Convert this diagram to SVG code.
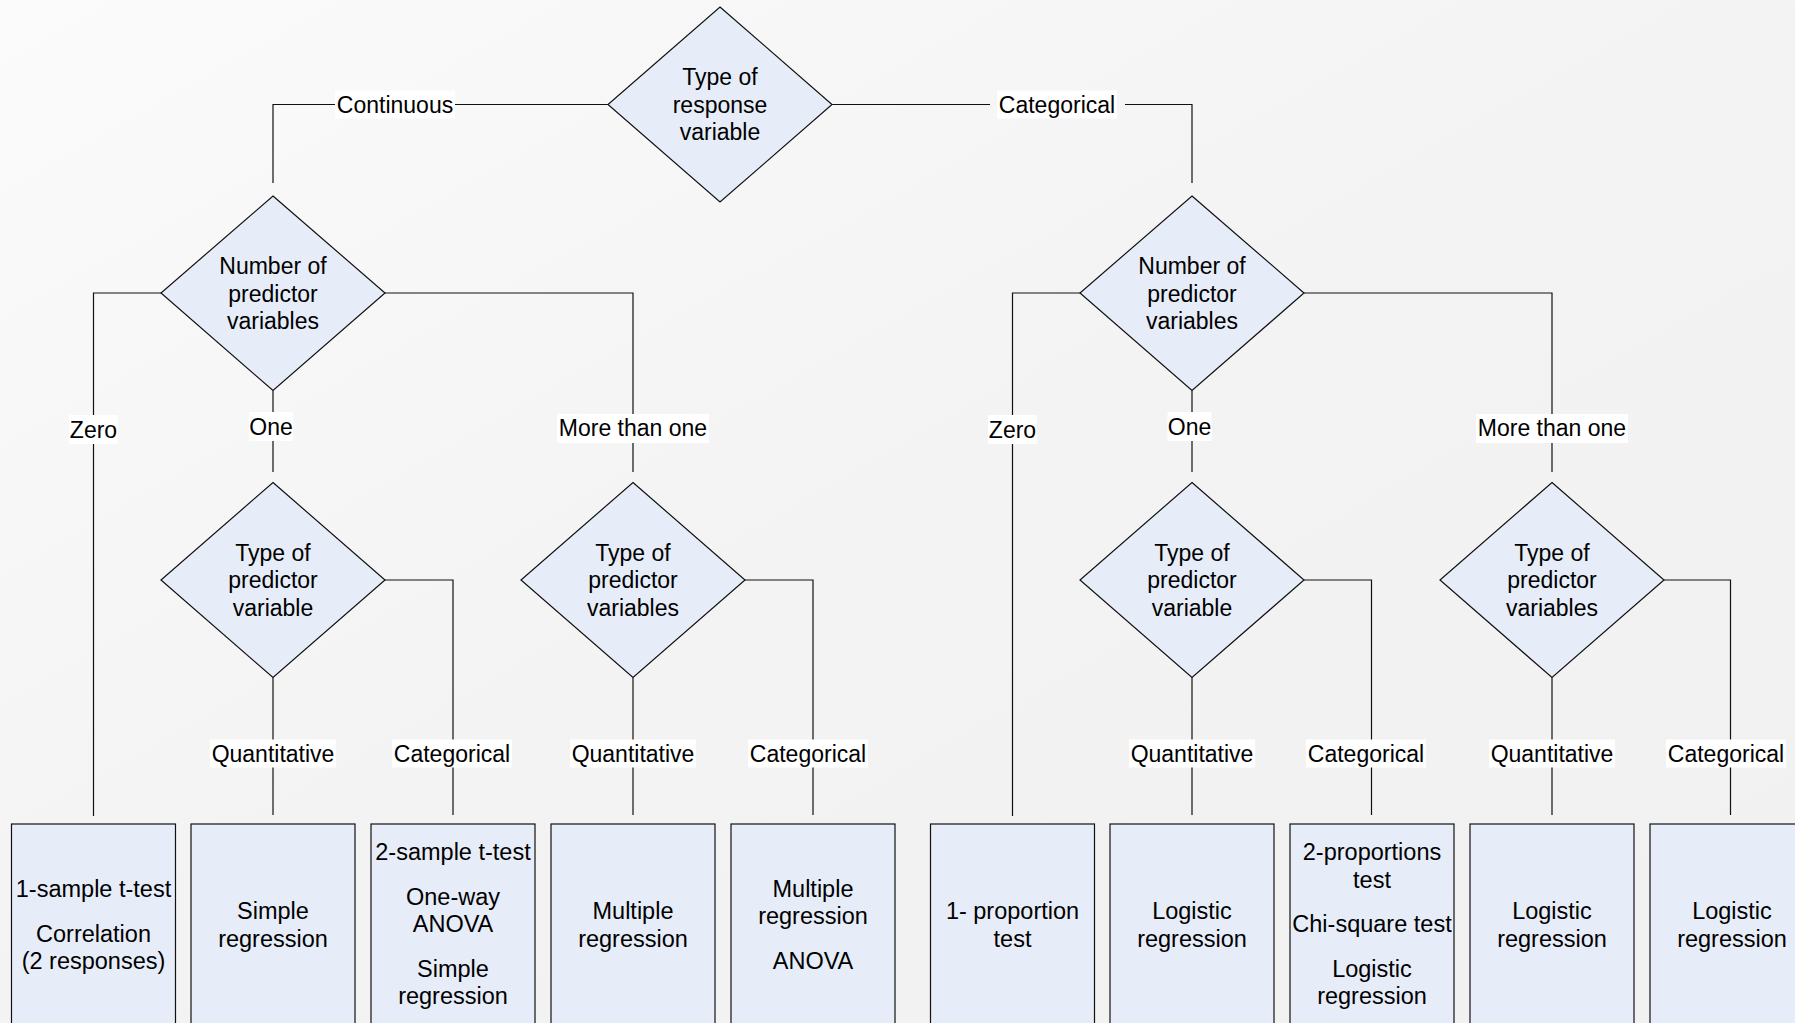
<svg xmlns="http://www.w3.org/2000/svg" width="1795" height="1023" viewBox="0 0 1795 1023">
  <defs>
    <linearGradient id="bg" x1="0" y1="0" x2="1" y2="1">
      <stop offset="0" stop-color="#fbfbfb"/>
      <stop offset="0.5" stop-color="#f3f3f3"/>
      <stop offset="1" stop-color="#f1f1f1"/>
    </linearGradient>
  </defs>
  <style>
    .shape { fill: #e7edf8; stroke: #111; stroke-width: 1.2; }
    .edge { fill: none; stroke: #111; stroke-width: 1.2; }
    .lblbg { fill: #ffffff; stroke: none; }
    text { font-family: "Liberation Sans", Arial, Helvetica, sans-serif; font-size: 23px; fill: #000; text-anchor: middle; }
    .box text { font-size: 23.5px; }
  </style>
  <rect x="0" y="0" width="1795" height="1023" fill="url(#bg)"/>

  <!-- connectors -->
  <g id="connectors">
    <polyline class="edge" points="608,104.5 273,104.5 273,183"/>
    <polyline class="edge" points="832,104.5 990,104.5"/>
    <polyline class="edge" points="1125,104.5 1192,104.5 1192,183"/>
    <!-- left number diamond -->
    <polyline class="edge" points="161,293 93.5,293 93.5,816"/>
    <polyline class="edge" points="273,390.5 273,472"/>
    <polyline class="edge" points="385,293 633,293 633,472"/>
    <!-- right number diamond -->
    <polyline class="edge" points="1080,293 1012.5,293 1012.5,816"/>
    <polyline class="edge" points="1192,390.5 1192,472"/>
    <polyline class="edge" points="1304,293 1552,293 1552,472"/>
    <!-- type diamonds -->
    <polyline class="edge" points="273,677.5 273,815"/>
    <polyline class="edge" points="385,580 453,580 453,815"/>
    <polyline class="edge" points="633,677.5 633,815"/>
    <polyline class="edge" points="745,580 813,580 813,815"/>
    <polyline class="edge" points="1192,677.5 1192,815"/>
    <polyline class="edge" points="1304,580 1371.5,580 1371.5,815"/>
    <polyline class="edge" points="1552,677.5 1552,815"/>
    <polyline class="edge" points="1664,580 1730.5,580 1730.5,815"/>

    <!-- edge labels -->
    <g id="lbl-continuous"><rect class="lblbg" x="335" y="90.5" width="120" height="28"/><text x="395" y="112.5">Continuous</text></g>
    <g id="lbl-categorical-top"><rect class="lblbg" x="997" y="90.5" width="120" height="28"/><text x="1057" y="112.5">Categorical</text></g>

    <g id="lbl-zero-l"><rect class="lblbg" x="69" y="415" width="49" height="29"/><text x="93.5" y="437.5">Zero</text></g>
    <g id="lbl-one-l"><rect class="lblbg" x="249" y="412" width="44" height="29"/><text x="271" y="434.5">One</text></g>
    <g id="lbl-more-l"><rect class="lblbg" x="557" y="414" width="152" height="29"/><text x="633" y="436">More than one</text></g>

    <g id="lbl-zero-r"><rect class="lblbg" x="988" y="415" width="49" height="29"/><text x="1012.5" y="437.5">Zero</text></g>
    <g id="lbl-one-r"><rect class="lblbg" x="1167.5" y="412" width="44" height="29"/><text x="1189.5" y="434.5">One</text></g>
    <g id="lbl-more-r"><rect class="lblbg" x="1476" y="414" width="152" height="29"/><text x="1552" y="436">More than one</text></g>

    <g id="lbl-q1"><rect class="lblbg" x="210" y="739.5" width="126" height="28"/><text x="273" y="761.5">Quantitative</text></g>
    <g id="lbl-c1"><rect class="lblbg" x="392" y="739.5" width="120" height="28"/><text x="452" y="761.5">Categorical</text></g>
    <g id="lbl-q2"><rect class="lblbg" x="570" y="739.5" width="126" height="28"/><text x="633" y="761.5">Quantitative</text></g>
    <g id="lbl-c2"><rect class="lblbg" x="748" y="739.5" width="120" height="28"/><text x="808" y="761.5">Categorical</text></g>
    <g id="lbl-q3"><rect class="lblbg" x="1129" y="739.5" width="126" height="28"/><text x="1192" y="761.5">Quantitative</text></g>
    <g id="lbl-c3"><rect class="lblbg" x="1306" y="739.5" width="120" height="28"/><text x="1366" y="761.5">Categorical</text></g>
    <g id="lbl-q4"><rect class="lblbg" x="1489" y="739.5" width="126" height="28"/><text x="1552" y="761.5">Quantitative</text></g>
    <g id="lbl-c4"><rect class="lblbg" x="1666" y="739.5" width="120" height="28"/><text x="1726" y="761.5">Categorical</text></g>
  </g>

  <!-- decision diamonds -->
  <g id="d-response">
    <polygon class="shape" points="720,7 832,104.5 720,202 608,104.5"/>
    <text x="720" y="85">Type of</text><text x="720" y="112.5">response</text><text x="720" y="140">variable</text>
  </g>
  <g id="d-number-left">
    <polygon class="shape" points="273,196 385,293 273,390.5 161,293"/>
    <text x="273" y="274">Number of</text><text x="273" y="301.5">predictor</text><text x="273" y="329">variables</text>
  </g>
  <g id="d-number-right">
    <polygon class="shape" points="1192,196 1304,293 1192,390.5 1080,293"/>
    <text x="1192" y="274">Number of</text><text x="1192" y="301.5">predictor</text><text x="1192" y="329">variables</text>
  </g>
  <g id="d-type-1">
    <polygon class="shape" points="273,482.5 385,580 273,677.5 161,580"/>
    <text x="273" y="560.5">Type of</text><text x="273" y="588">predictor</text><text x="273" y="615.5">variable</text>
  </g>
  <g id="d-type-2">
    <polygon class="shape" points="633,482.5 745,580 633,677.5 521,580"/>
    <text x="633" y="560.5">Type of</text><text x="633" y="588">predictor</text><text x="633" y="615.5">variables</text>
  </g>
  <g id="d-type-3">
    <polygon class="shape" points="1192,482.5 1304,580 1192,677.5 1080,580"/>
    <text x="1192" y="560.5">Type of</text><text x="1192" y="588">predictor</text><text x="1192" y="615.5">variable</text>
  </g>
  <g id="d-type-4">
    <polygon class="shape" points="1552,482.5 1664,580 1552,677.5 1440,580"/>
    <text x="1552" y="560.5">Type of</text><text x="1552" y="588">predictor</text><text x="1552" y="615.5">variables</text>
  </g>

  <!-- result boxes -->
  <g id="b1" class="box">
    <rect class="shape" x="11.5" y="824" width="164" height="210"/>
    <text x="93.5" y="897">1-sample t-test</text><text x="93.5" y="941.5">Correlation</text><text x="93.5" y="969">(2 responses)</text>
  </g>
  <g id="b2" class="box">
    <rect class="shape" x="191" y="824" width="164" height="210"/>
    <text x="273" y="919">Simple</text><text x="273" y="946.5">regression</text>
  </g>
  <g id="b3" class="box">
    <rect class="shape" x="371" y="824" width="164" height="210"/>
    <text x="453" y="860">2-sample t-test</text><text x="453" y="904.5">One-way</text><text x="453" y="932">ANOVA</text><text x="453" y="976.5">Simple</text><text x="453" y="1004">regression</text>
  </g>
  <g id="b4" class="box">
    <rect class="shape" x="551" y="824" width="164" height="210"/>
    <text x="633" y="919">Multiple</text><text x="633" y="946.5">regression</text>
  </g>
  <g id="b5" class="box">
    <rect class="shape" x="731" y="824" width="164" height="210"/>
    <text x="813" y="896.5">Multiple</text><text x="813" y="924">regression</text><text x="813" y="968.5">ANOVA</text>
  </g>
  <g id="b6" class="box">
    <rect class="shape" x="930.5" y="824" width="164" height="210"/>
    <text x="1012.5" y="919">1- proportion</text><text x="1012.5" y="946.5">test</text>
  </g>
  <g id="b7" class="box">
    <rect class="shape" x="1110" y="824" width="164" height="210"/>
    <text x="1192" y="919">Logistic</text><text x="1192" y="946.5">regression</text>
  </g>
  <g id="b8" class="box">
    <rect class="shape" x="1290" y="824" width="164" height="210"/>
    <text x="1372" y="860">2-proportions</text><text x="1372" y="887.5">test</text><text x="1372" y="932">Chi-square test</text><text x="1372" y="976.5">Logistic</text><text x="1372" y="1004">regression</text>
  </g>
  <g id="b9" class="box">
    <rect class="shape" x="1470" y="824" width="164" height="210"/>
    <text x="1552" y="919">Logistic</text><text x="1552" y="946.5">regression</text>
  </g>
  <g id="b10" class="box">
    <rect class="shape" x="1650" y="824" width="164" height="210"/>
    <text x="1732" y="919">Logistic</text><text x="1732" y="946.5">regression</text>
  </g>
</svg>
